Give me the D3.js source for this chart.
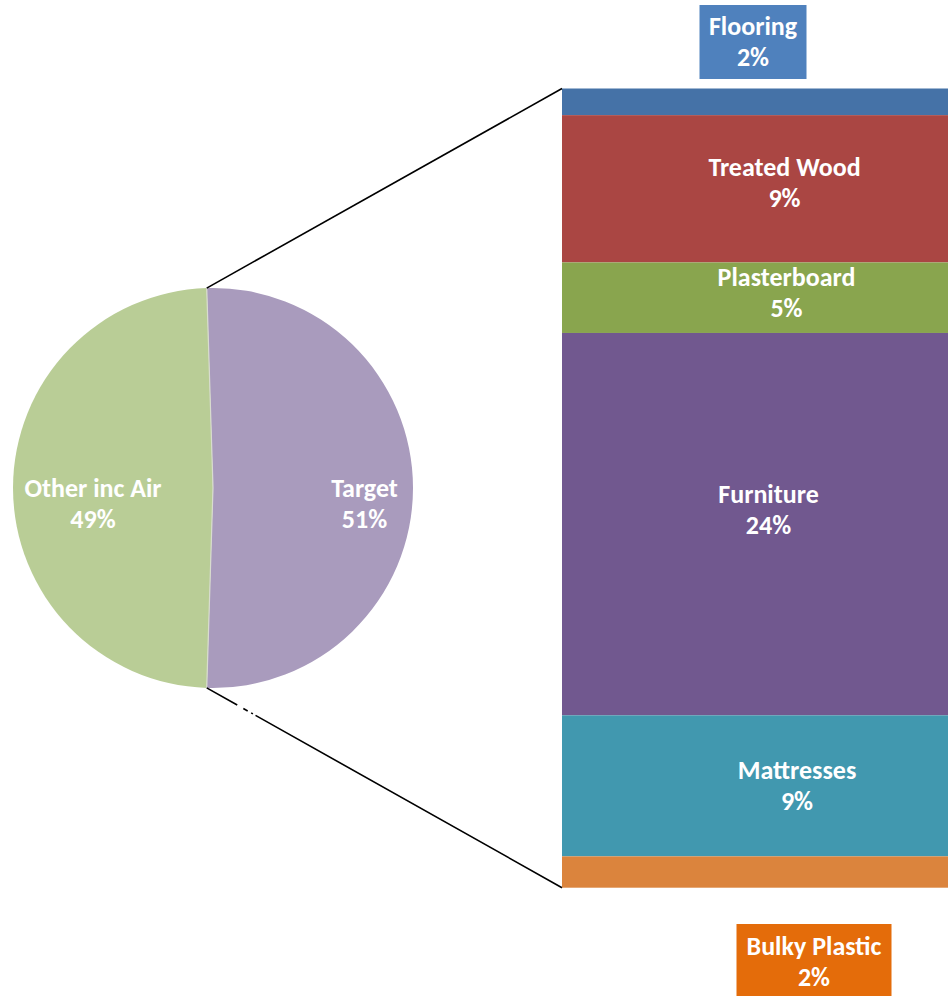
<!DOCTYPE html>
<html><head><meta charset="utf-8">
<script src="https://cdn.jsdelivr.net/npm/d3@7"></script>
<style>
html,body{margin:0;padding:0;background:#fff;}
svg{display:block;}
text{font-family:Carlito,"Open Sans",Lato,sans-serif;font-weight:bold;fill:#fff;}
</style></head>
<body>
<svg id="chart" width="948" height="996"></svg>
<script>
// ---- data ----
const pieCategories = ["Target", "Other inc Air"];
const pieValues = [51, 49];
const pieLabels = ["51%", "49%"];
const barCategories = ["Flooring", "Treated Wood", "Plasterboard", "Furniture", "Mattresses", "Bulky Plastic"];
const barValues = [1.7, 9.4, 4.5, 24.4, 9.0, 2.0];
const barLabels = ["2%", "9%", "5%", "24%", "9%", "2%"];

// ---- styles ----
const pieColors = ["#a99bbd", "#b9cd96"];
const barColors = ["#4572a7", "#aa4643", "#89a54e", "#71588f", "#4198af", "#db843d"];
const boxColors = {"Flooring": "#4f81bd", "Bulky Plastic": "#e46c0a"};
const pieLabelRadius = [151.5, 120];
const barLabelOffsets = [[0,0],[29.5,2.6],[31.5,3.9],[13.5,-5.2],[42,8.6],[0,0]]; // dx, dy from segment center
const outsideBoxes = {"Flooring": {cx: 753, cy: 42, w: 107, h: 74, dy: 8}, "Bulky Plastic": {cx: 814, cy: 961, w: 155, h: 74, dy: 9}};

const svg = d3.select("#chart");
const fontSize = 26, lineGap = 31;

// ---- pie ----
const cx = 213, cy = 488, R = 200;
const targetAngle = 2 * Math.PI * pieValues[0] / d3.sum(pieValues);
const startRot = Math.PI / 2 - targetAngle / 2; // center Target at 3 o'clock
const pie = d3.pie().sort(null).value(d => d).startAngle(startRot).endAngle(startRot + 2 * Math.PI);
const arcs = pie(pieValues);
const arc = d3.arc().innerRadius(0).outerRadius(R);
const gPie = svg.append("g").attr("transform", `translate(${cx},${cy})`);
gPie.selectAll("path").data(arcs).join("path")
  .attr("d", arc).attr("fill", (d, i) => pieColors[i]);
gPie.selectAll("path.sep").data(arcs).join("path").attr("class","sep")
  .attr("d", d => `M0,0L${R*Math.sin(d.startAngle)},${-R*Math.cos(d.startAngle)}`)
  .attr("stroke", "#d8dccf").attr("stroke-width", 1.2).attr("fill", "none");

arcs.forEach((d, i) => {
  const a = (d.startAngle + d.endAngle) / 2;
  const lx = pieLabelRadius[i] * Math.sin(a), ly = -pieLabelRadius[i] * Math.cos(a);
  const t = gPie.append("text").attr("text-anchor", "middle").attr("font-size", fontSize);
  t.append("tspan").attr("x", lx).attr("y", ly + 8.5).text(pieCategories[i]);
  t.append("tspan").attr("x", lx).attr("y", ly + 8.5 + lineGap).text(pieLabels[i]);
});

// ---- bar ----
const barX = 562, barW = 460, barTop = 88.5, barBottom = 887.7;
const total = d3.sum(barValues);
const y = d3.scaleLinear().domain([0, total]).range([barTop, barBottom]);
const cum = d3.cumsum(barValues);
const segs = barValues.map((v, i) => ({cat: barCategories[i], v, y0: i ? cum[i-1] : 0, y1: cum[i], i}));
svg.append("g").selectAll("rect").data(segs).join("rect")
  .attr("x", barX).attr("width", barW)
  .attr("y", d => y(d.y0)).attr("height", d => y(d.y1) - y(d.y0))
  .attr("fill", d => barColors[d.i]);

// connector lines
const topPt = [cx + R * Math.sin(arcs[0].startAngle), cy - R * Math.cos(arcs[0].startAngle)];
const botPt = [cx + R * Math.sin(arcs[0].endAngle), cy - R * Math.cos(arcs[0].endAngle)];
svg.append("line").attr("x1", topPt[0]).attr("y1", topPt[1]).attr("x2", barX).attr("y2", y(0))
  .attr("stroke", "#000").attr("stroke-width", 1.6);
svg.append("line").attr("x1", botPt[0]).attr("y1", botPt[1]).attr("x2", barX).attr("y2", y(total))
  .attr("stroke", "#000").attr("stroke-width", 1.6)
  .attr("stroke-dasharray", "35,7,5,4,2,3,400");

// bar labels
segs.forEach(d => {
  const box = outsideBoxes[d.cat];
  let lx, ly;
  if (box) {
    svg.append("rect").attr("x", box.cx - box.w/2).attr("y", box.cy - box.h/2)
      .attr("width", box.w).attr("height", box.h).attr("fill", boxColors[d.cat]);
    lx = box.cx; ly = box.cy + box.dy;
  } else {
    lx = barX + 193 + barLabelOffsets[d.i][0];
    ly = (y(d.y0) + y(d.y1)) / 2 + barLabelOffsets[d.i][1];
  }
  const t = svg.append("text").attr("text-anchor", "middle").attr("font-size", fontSize);
  t.append("tspan").attr("x", lx).attr("y", ly - lineGap/2).text(d.cat);
  t.append("tspan").attr("x", lx).attr("y", ly + lineGap/2).text(barLabels[d.i]);
});
</script>
</body></html>
